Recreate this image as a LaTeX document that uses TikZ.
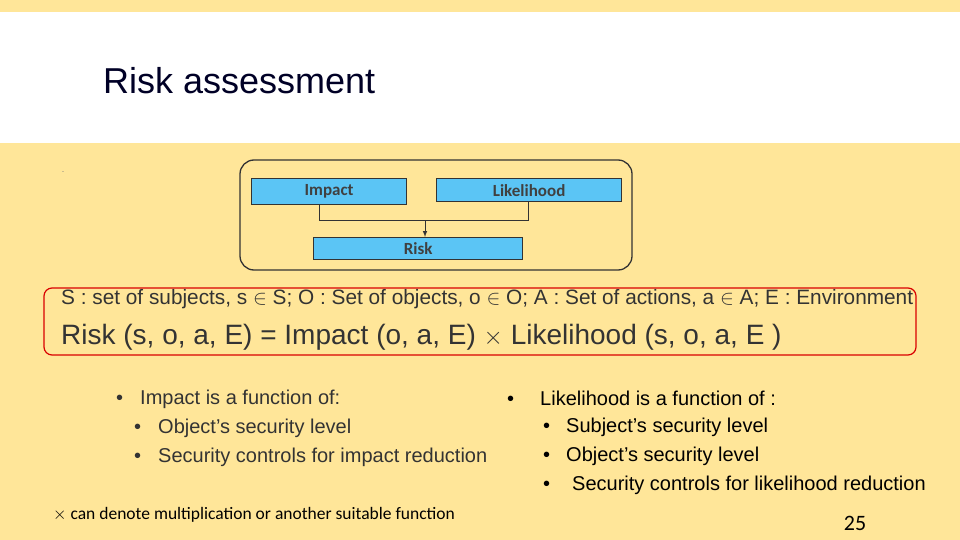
\documentclass[tikz,border=0pt]{standalone}
\usepackage{fontspec}
\setmainfont{Liberation Sans}
\newfontfamily\cali{Carlito}
\definecolor{bgY}{HTML}{FFE699}
\definecolor{boxB}{HTML}{5BC5F5}
\begin{document}
\begin{tikzpicture}[x=1pt,y=-1pt,
 blue/.style={draw=black!80,line width=1.2pt,fill=boxB,inner sep=0pt,font=\cali\fontsize{17}{18}\selectfont\bfseries,text=black!75},
 txt/.style={anchor=west,inner sep=0pt,font=\fontsize{20}{22}\selectfont}]
\fill[bgY] (0,0) rectangle (960,540);
\fill[white] (0,12) rectangle (960,143);
\node[anchor=west,inner sep=0pt,font=\fontsize{36}{40}\selectfont,text=black!85!blue] (title) at (103,81) {Risk assessment};
\node[inner sep=0pt,font=\small,text=gray] (dot) at (63,172) {.};
\draw[black!80,line width=1.3pt,rounded corners=14pt] (240,160) rectangle (632,270);
\node[blue,minimum width=155pt,minimum height=26pt,anchor=north west] (imp) at (251,178) {Impact};
\node[blue,minimum width=185pt,minimum height=23pt,anchor=north west] (lik) at (436,178) {Likelihood};
\node[blue,minimum width=209pt,minimum height=22pt,anchor=north west] (risk) at (313,237) {Risk};
\coordinate (a) at (319,220);
\coordinate (b) at (528,220);
\coordinate (m) at (425,220);
\draw[black!80] (319,204) -- (a) -- (b) -- (528,201);
\draw[black!80,line width=1pt,-latex] (m) -- (risk.north -| m);
\draw[red!85!black,line width=1.2pt,fill=bgY,rounded corners=8pt] (44,288) rectangle (916,355);
\node[txt,font=\fontsize{20.8}{22}\selectfont,text=black!80] (def) at (61,299) {S : set of subjects, s $\in$ S; O : Set of objects, o $\in$ O; A : Set of actions, a $\in$ A; E : Environment};
\node[txt,font=\fontsize{28}{30}\selectfont,text=black!80] (eq) at (61,337) {Risk (s, o, a, E) = Impact (o, a, E) $\times$ Likelihood (s, o, a, E )};
\node[txt,text=black!80] (i0) at (116,399) {\textbullet\hspace{17pt}Impact is a function of:};
\node[txt,text=black!80] (i1) at (134,428) {\textbullet\hspace{17pt}Object's security level};
\node[txt,text=black!80] (i2) at (134,457) {\textbullet\hspace{17pt}Security controls for impact reduction};
\node[txt] (l0) at (507,398) {\textbullet\hspace{26pt}Likelihood is a function of :};
\node[txt] (l1) at (543,427) {\textbullet\hspace{16pt}Subject’s security level};
\node[txt] (l2) at (543,456) {\textbullet\hspace{16pt}Object’s security level};
\node[txt] (l3) at (543,485) {\textbullet\hspace{22pt}Security controls for likelihood reduction};
\node[anchor=west,inner sep=0pt,font=\cali\fontsize{17.5}{19}\selectfont] (note) at (53,515) {$\times$ can denote multiplication or another suitable function};
\node[inner sep=0pt,font=\cali\fontsize{22}{24}\selectfont] (pg) at (855,523) {25};
\end{tikzpicture}
\end{document}
